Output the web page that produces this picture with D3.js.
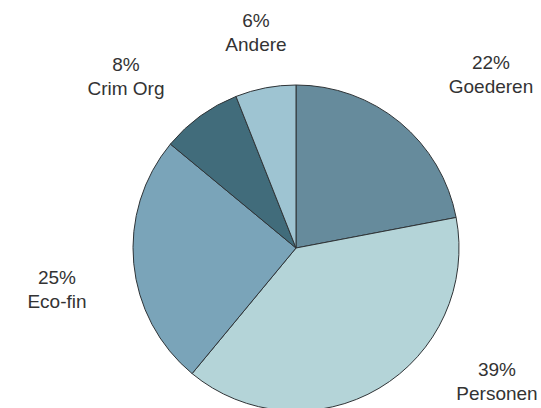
<!DOCTYPE html>
<html>
<head>
<meta charset="utf-8">
<script src="https://cdn.jsdelivr.net/npm/d3@7/dist/d3.min.js"></script>
<style>
html,body{margin:0;padding:0;background:#fff;}
svg{display:block;}
</style>
</head>
<body>
<svg id="chart" width="541" height="408"></svg>
<script>
const categories = ["Goederen", "Personen", "Eco-fin", "Crim Org", "Andere"];
const values = [22, 39, 25, 8, 6];
const colors = ["#668b9c", "#b4d4d8", "#7aa4b9", "#416c7b", "#9ec4d2"];

// label anchor points (layout only)
const labelPos = [[491, 69], [497, 376], [57, 284], [126, 71], [256, 27]];

const W = 541, H = 408;
const cx = 296, cy = 248, R = 163;
const svg = d3.select("#chart");

const data = categories.map((c, i) => ({name: c, value: values[i], color: colors[i], i}));
const pie = d3.pie().value(d => d.value).sort(null);
const arc = d3.arc().innerRadius(0).outerRadius(R);

const g = svg.append("g").attr("transform", `translate(${cx},${cy})`);
g.selectAll("path").data(pie(data)).join("path")
  .attr("d", arc)
  .attr("fill", d => d.data.color)
  .attr("stroke", "#2f3437")
  .attr("stroke-width", 1)
  .attr("stroke-linejoin", "round");

const total = d3.sum(values);
const lab = svg.append("g")
  .attr("font-family", "'Liberation Sans', Arial, Helvetica, sans-serif")
  .attr("font-size", 19)
  .attr("fill", "#333")
  .attr("text-anchor", "middle");
data.forEach((d, i) => {
  const [x, y] = labelPos[i];
  lab.append("text").attr("x", x).attr("y", y)
    .text(Math.round(d.value / total * 100) + "%");
  lab.append("text").attr("x", x).attr("y", y + 24)
    .text(d.name);
});
</script>
</body>
</html>
